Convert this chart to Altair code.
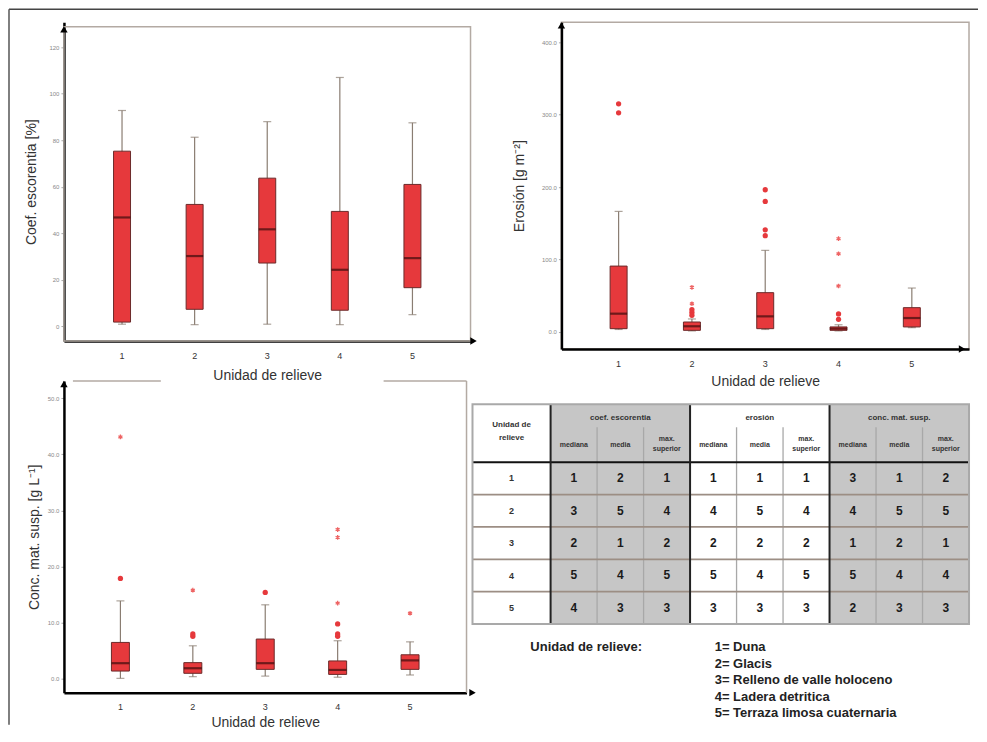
import altair as alt
import pandas as pd

UNITS = ["1", "2", "3", "4", "5"]

# ---- Coef. escorrentia [%] ----
ESC_LO = [0.9, 0.7, 0.9, 0.7, 5.0]
ESC_Q1 = [1.8, 7.3, 27.2, 6.9, 16.6]
ESC_MED = [46.8, 30.2, 41.7, 24.3, 29.3]
ESC_Q3 = [75.3, 52.4, 63.7, 49.4, 61.0]
ESC_HI = [92.8, 81.3, 88.0, 107.0, 87.5]

# ---- Erosion [g m-2] ----
ERO_LO = [3.5, 1.5, 3.5, 1.5, 6.0]
ERO_Q1 = [4.6, 2.3, 4.6, 2.3, 7.0]
ERO_MED = [25.3, 7.9, 21.6, 4.6, 19.3]
ERO_Q3 = [91.0, 13.8, 54.3, 7.0, 33.6]
ERO_HI = [166.5, 18.0, 112.7, 10.0, 60.7]
ERO_OUT_UNIT = ["1", "1", "2", "2", "2", "2", "2", "3", "3", "3", "3", "4", "4", "4", "4", "4"]
ERO_OUT_VAL = [315.0, 302.6, 61.7, 39.0, 31.0, 27.0, 23.0, 196.4, 180.3, 141.0, 133.0, 128.8, 108.0, 63.5, 25.0, 17.5]
ERO_OUT_KIND = ["o", "o", "*", "*", "o", "o", "o", "o", "o", "o", "o", "*", "*", "*", "o", "o"]

# ---- Conc. mat. susp. [g L-1] ----
CON_LO = [0.1, 0.4, 0.5, 0.3, 0.7]
CON_Q1 = [1.4, 1.0, 1.7, 0.8, 1.7]
CON_MED = [2.8, 1.9, 2.8, 1.6, 3.3]
CON_Q3 = [6.5, 2.9, 7.1, 3.2, 4.3]
CON_HI = [13.9, 5.9, 13.2, 6.8, 6.6]
CON_OUT_UNIT = ["1", "1", "2", "2", "2", "3", "4", "4", "4", "4", "4", "4", "5"]
CON_OUT_VAL = [43.1, 17.9, 15.8, 8.0, 7.6, 15.4, 26.6, 25.2, 13.5, 9.8, 8.0, 7.6, 11.7]
CON_OUT_KIND = ["*", "o", "*", "o", "o", "o", "*", "*", "*", "o", "o", "o", "*"]

# ---- Ranking table ----
GROUPS = ["coef. escorentia", "erosión", "conc. mat. susp."]
SUBCOLS = ["mediana", "media", "max. superior"]
RANKS = [
    [1, 2, 1, 1, 1, 1, 3, 1, 2],
    [3, 5, 4, 4, 5, 4, 4, 5, 5],
    [2, 1, 2, 2, 2, 2, 1, 2, 1],
    [5, 4, 5, 5, 4, 5, 5, 4, 4],
    [4, 3, 3, 3, 3, 3, 2, 3, 3],
]
LEGEND_TITLE = "Unidad de relieve:"
LEGEND_ITEMS = ["1= Duna", "2= Glacis", "3= Relleno de valle holoceno",
                "4= Ladera detritica", "5= Terraza limosa cuaternaria"]

RED = "#e6393c"
FRAME = "#b3aaa3"
FONT = "Liberation Sans"
ASTER = "M0,-1L0,1M-0.866,-0.5L0.866,0.5M-0.866,0.5L0.866,-0.5"
one = pd.DataFrame({"a": [0]})


def box_panel(lo, q1, med, q3, hi, out_u, out_v, out_k, ydom, yvals, yfmt,
              ytitle, width, height, pad_outer, box_w, ytpad, lpad, xtpad,
              xarrow, arrow_y, extra=None, view=None):
    stats = pd.DataFrame({"unit": UNITS, "lo": lo, "q1": q1, "med": med, "q3": q3, "hi": hi})
    xenc = alt.X("unit:N", scale=alt.Scale(domain=UNITS, paddingInner=0, paddingOuter=pad_outer),
                 axis=alt.Axis(title="Unidad de relieve", labelAngle=0, labelFontSize=9,
                               labelColor="#333", tickSize=0, labelPadding=lpad,
                               domainColor="black", domainWidth=2.5, titleFontSize=14,
                               titleFontWeight="normal", titleColor="#333",
                               titlePadding=xtpad, orient="bottom", grid=False))
    ysc = alt.Scale(domain=ydom, nice=False, zero=False)
    yax = alt.Axis(values=yvals, format=yfmt, labelFontSize=6, labelColor="#888",
                   tickSize=3, tickColor="#aaa", labelPadding=2, domainColor="black",
                   domainWidth=2.5, grid=False, title=ytitle, titleFontSize=14,
                   titleFontWeight="normal", titleColor="#333", titlePadding=ytpad,
                   orient="left")
    base = alt.Chart(stats)
    whisk = base.mark_rule(color="#8a7d72", strokeWidth=1.2).encode(
        x=xenc, y=alt.Y("lo:Q", scale=ysc, axis=yax), y2="hi:Q")
    cap_lo = base.mark_tick(color="#8a7d72", size=8, thickness=1.2).encode(
        x=xenc, y=alt.Y("lo:Q", scale=ysc, axis=yax))
    cap_hi = base.mark_tick(color="#8a7d72", size=8, thickness=1.2).encode(
        x=xenc, y=alt.Y("hi:Q", scale=ysc, axis=yax))
    box = base.mark_bar(size=box_w, color=RED, stroke="#6b2a2a", strokeWidth=1).encode(
        x=xenc, y=alt.Y("q1:Q", scale=ysc, axis=yax), y2="q3:Q")
    medi = base.mark_tick(color="#3b0c0c", size=box_w, thickness=2.2).encode(
        x=xenc, y=alt.Y("med:Q", scale=ysc, axis=yax))
    layers = []
    if extra:
        layers += extra
    layers += [whisk, cap_lo, cap_hi, box, medi]
    if out_u:
        out = pd.DataFrame({"unit": out_u, "val": out_v, "kind": out_k})
        circ = alt.Chart(out).transform_filter(alt.datum.kind == "o").mark_point(
            shape="circle", filled=True, size=28, color=RED, opacity=1).encode(
            x=xenc, y=alt.Y("val:Q", scale=ysc, axis=yax))
        star = alt.Chart(out).transform_filter(alt.datum.kind == "*").mark_point(
            shape=ASTER, filled=False, size=22, color="#ee6464", strokeWidth=1.3,
            opacity=1).encode(x=xenc, y=alt.Y("val:Q", scale=ysc, axis=yax))
        layers += [circ, star]
    arrow_up = alt.Chart(one).mark_point(shape="triangle-up", filled=True, size=55,
                                         color="black", opacity=1).encode(
        x=alt.value(0), y=alt.value(arrow_y))
    arrow_rt = alt.Chart(one).mark_point(shape="triangle-right", filled=True, size=55,
                                         color="black", opacity=1).encode(
        x=alt.value(xarrow), y=alt.value(height))
    layers += [arrow_up, arrow_rt]
    ch = alt.layer(*layers).properties(width=width, height=height)
    if view is not None:
        ch = ch.properties(view=view)
    return ch


frame_view = alt.ViewBackground(stroke=FRAME, strokeWidth=1.5)
no_view = alt.ViewBackground(strokeOpacity=0)

# panel 1: frame and the outer border of the figure (top and left lines)
p1_extra = [
    alt.Chart(one).mark_rect(fillOpacity=0, stroke=FRAME, strokeWidth=1.5).encode(
        x=alt.value(0), x2=alt.value(407), y=alt.value(4.5), y2=alt.value(319)),
    alt.Chart(one).mark_rule(color="#444", strokeWidth=1.5).encode(
        x=alt.value(-55), x2=alt.value(915), y=alt.value(-13)),
    alt.Chart(one).mark_rule(color="#555", strokeWidth=1.5).encode(
        x=alt.value(-55), y=alt.value(-13), y2=alt.value(703)),
]

p1 = box_panel(ESC_LO, ESC_Q1, ESC_MED, ESC_Q3, ESC_HI, [], [], [],
               [-6.34, 130.7], [0, 20, 40, 60, 80, 100, 120], "d",
               "Coef. escorentia [%]", 407, 319, 0.3, 17, 10, 10, 9, 410, 7,
               extra=p1_extra, view=no_view)

p2 = box_panel(ERO_LO, ERO_Q1, ERO_MED, ERO_Q3, ERO_HI, ERO_OUT_UNIT, ERO_OUT_VAL, ERO_OUT_KIND,
               [-23.5, 427.5], [0, 100, 200, 300, 400], ".1f",
               "Erosión [g m⁻²]", 408, 327, 0.28, 17, 15, 10, 7, 401, 3, view=frame_view)

p3_frame = [
    alt.Chart(one).mark_rule(color=FRAME, strokeWidth=1.5).encode(
        x=alt.value(9), x2=alt.value(97), y=alt.value(0)),
    alt.Chart(one).mark_rule(color=FRAME, strokeWidth=1.5).encode(
        x=alt.value(320), x2=alt.value(403), y=alt.value(0)),
    alt.Chart(one).mark_rule(color=FRAME, strokeWidth=1.5).encode(
        x=alt.value(403), y=alt.value(0), y2=alt.value(312)),
]
p3 = box_panel(CON_LO, CON_Q1, CON_MED, CON_Q3, CON_HI, CON_OUT_UNIT, CON_OUT_VAL, CON_OUT_KIND,
               [-2.45, 53.07], [0, 10, 20, 30, 40, 50], ".1f",
               "Conc. mat. susp. [g L⁻¹]", 403, 312, 0.28, 18, 6, 10, 4, 409, 3,
               extra=p3_frame, view=no_view)

# ---- table chart (shares the right grid column with panel 2) ----
C0 = 1.68
R1, R2 = 0.71, 1.79
TR = C0 + 9
TB = R2 + 5
xs = alt.Scale(domain=[1.913, 10.68], nice=False, zero=False)
ys = alt.Scale(domain=[-0.72, 8.91], nice=False, zero=False, reverse=True)


def X(f):
    return alt.X(f, type="quantitative", scale=xs, axis=None)


def Y(f):
    return alt.Y(f, type="quantitative", scale=ys, axis=None)


gray_df = pd.DataFrame({"x": [C0, C0 + 6], "x2": [C0 + 3, C0 + 9], "y": [0, 0], "y2": [TB, TB]})
gray = alt.Chart(gray_df).mark_rect(color="#c6c6c6").encode(x=X("x"), x2="x2", y=Y("y"), y2="y2")

sub_df = pd.DataFrame({"x": [C0 + j for j in [1, 2, 4, 5, 7, 8]], "y": [R1] * 6, "y2": [TB] * 6})
sub_lines = alt.Chart(sub_df).mark_rule(color="#a8a8a8", strokeWidth=1.3).encode(
    x=X("x"), y=Y("y"), y2="y2")

row_df = pd.DataFrame({"x": [0] * 4, "x2": [TR] * 4, "y": [R2 + i for i in range(1, 5)]})
row_lines = alt.Chart(row_df).mark_rule(color="#9c8e84", strokeWidth=1.8).encode(
    x=X("x"), x2="x2", y=Y("y"))

head_df = pd.DataFrame({"x": [0], "x2": [TR], "y": [R2]})
head_line = alt.Chart(head_df).mark_rule(color="#111", strokeWidth=2).encode(
    x=X("x"), x2="x2", y=Y("y"))

grp_df = pd.DataFrame({"x": [C0, C0 + 3, C0 + 6], "y": [0] * 3, "y2": [TB] * 3})
grp_lines = alt.Chart(grp_df).mark_rule(color="#222", strokeWidth=2).encode(
    x=X("x"), y=Y("y"), y2="y2")

outer_df = pd.DataFrame({"x": [0], "x2": [TR], "y": [0], "y2": [TB]})
outer = alt.Chart(outer_df).mark_rect(fillOpacity=0, stroke="#a9a9a9", strokeWidth=2).encode(
    x=X("x"), x2="x2", y=Y("y"), y2="y2")

hdr_rows = [{"x": C0 / 2, "y": 0.65, "t": "Unidad de"}, {"x": C0 / 2, "y": 1.04, "t": "relieve"}]
for g, name in enumerate(GROUPS):
    hdr_rows.append({"x": C0 + 3 * g + 1.5, "y": 0.42, "t": name})
hdr = alt.Chart(pd.DataFrame(hdr_rows)).mark_text(fontSize=8, fontWeight="bold", color="#333").encode(
    x=X("x"), y=Y("y"), text="t:N")

sub_rows = []
for g in range(3):
    for k, s in enumerate(SUBCOLS):
        cx = C0 + 3 * g + k + 0.5
        if " " in s:
            a, b = s.split(" ")
            sub_rows.append({"x": cx, "y": 1.06, "t": a})
            sub_rows.append({"x": cx, "y": 1.37, "t": b})
        else:
            sub_rows.append({"x": cx, "y": 1.27, "t": s})
subt = alt.Chart(pd.DataFrame(sub_rows)).mark_text(fontSize=7, fontWeight="bold", color="#333").encode(
    x=X("x"), y=Y("y"), text="t:N")

val_rows = []
for i, row in enumerate(RANKS):
    for j, v in enumerate(row):
        val_rows.append({"x": C0 + j + 0.5, "y": R2 + i + 0.5, "t": str(v)})
vals = alt.Chart(pd.DataFrame(val_rows)).mark_text(fontSize=12, fontWeight="bold", color="#1a1a1a").encode(
    x=X("x"), y=Y("y"), text="t:N")

unit_rows = pd.DataFrame({"x": [C0 / 2] * 5, "y": [R2 + i + 0.5 for i in range(5)], "t": UNITS})
unit_txt = alt.Chart(unit_rows).mark_text(fontSize=9, fontWeight="bold", color="#333").encode(
    x=X("x"), y=Y("y"), text="t:N")

leg_rows = [{"x": 1.245, "y": 7.5, "t": LEGEND_TITLE}]
for k, s in enumerate(LEGEND_ITEMS):
    leg_rows.append({"x": 5.21, "y": 7.5 + 0.51 * k, "t": s})
leg = alt.Chart(pd.DataFrame(leg_rows)).mark_text(fontSize=13, fontWeight="bold", color="#222",
                                                  align="left").encode(
    x=X("x"), y=Y("y"), text="t:N")

tbl = alt.layer(gray, sub_lines, row_lines, head_line, grp_lines, outer, hdr, subt, vals,
                unit_txt, leg).properties(width=408, height=312, view=no_view)

chart = alt.concat(p1, p2, p3, tbl, columns=2, spacing={"row": 32, "column": 91},
                   bounds="flush").properties(padding=0, background="white").configure(font=FONT)

chart.save("out.html", embed_options={"renderer": "svg", "actions": False})
